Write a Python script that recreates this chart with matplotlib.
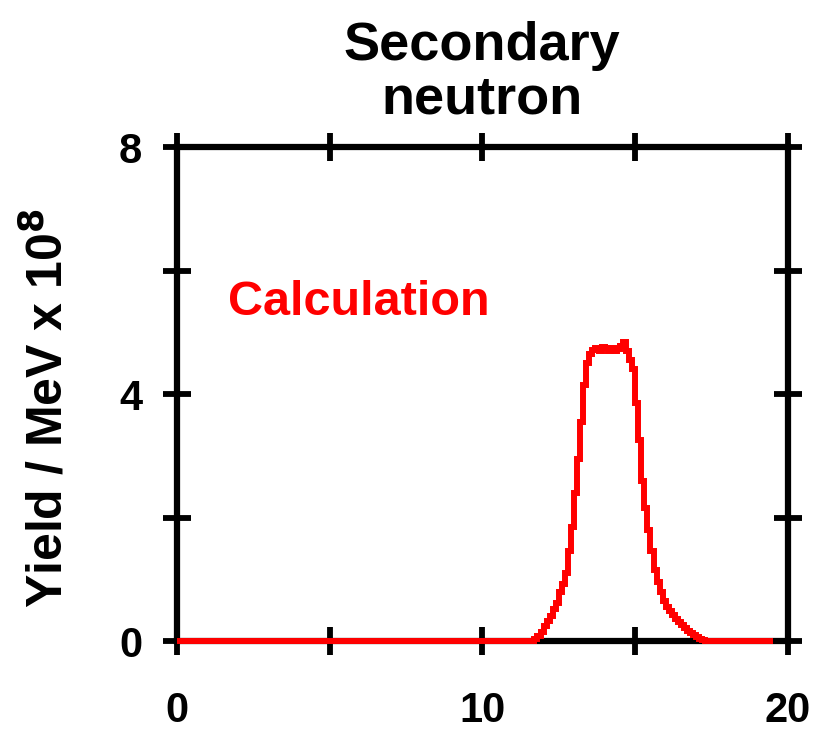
import matplotlib.pyplot as plt
import numpy as np

plt.rcParams['font.family'] = ['Liberation Sans', 'DejaVu Sans']
plt.rcParams['font.weight'] = 'bold'

# calculated secondary neutron spectrum, 0.1 MeV bins
bin_width = 0.1
e_min, e_max = 0.0, 19.5
peak_start = 11.7
peak_yield = [0.03, 0.08, 0.15, 0.25, 0.32, 0.40, 0.52, 0.62, 0.80, 0.92,
              1.10, 1.45, 1.85, 2.40, 2.95, 3.55, 4.15, 4.50, 4.65, 4.72,
              4.75, 4.70, 4.76, 4.74, 4.70, 4.74, 4.70, 4.73, 4.78, 4.84,
              4.70, 4.55, 4.40, 3.85, 3.25, 2.60, 2.15, 1.80, 1.45, 1.15,
              0.95, 0.80, 0.65, 0.55, 0.48, 0.42, 0.36, 0.30, 0.26, 0.21,
              0.17, 0.13, 0.10, 0.07, 0.04, 0.02]

x_ticks = [0, 10, 20]
y_ticks = [0, 4, 8]

n_bins = int(round((e_max - e_min) / bin_width))
edges = e_min + bin_width * np.arange(n_bins + 1)
values = np.zeros(n_bins)
i0 = int(round((peak_start - e_min) / bin_width))
values[i0:i0 + len(peak_yield)] = peak_yield

fig = plt.figure(figsize=(8.14, 7.32), dpi=100)
ax = fig.add_axes([0.2174, 0.1243, 0.7506, 0.6747])

ax.stairs(values, edges, color='#ff0000', lw=4.3, baseline=None,
          clip_on=False, zorder=5)

ax.set_xlim(0, 20)
ax.set_ylim(0, 8)
ax.set_xticks(x_ticks)
ax.set_xticks([5, 15], minor=True)
ax.set_yticks(y_ticks)
ax.set_yticks([2, 6], minor=True)
for s in ax.spines.values():
    s.set_linewidth(4.5)
ax.tick_params(which='both', direction='inout', length=20, width=4.2,
               top=True, right=True, labelsize=30)
ax.tick_params(axis='x', pad=26)
ax.tick_params(axis='y', pad=15)
for lab in ax.get_xticklabels() + ax.get_yticklabels():
    lab.set_fontweight('bold')

fig.text(62 / 814, 1 - 408 / 732, 'Yield / MeV x 10$^{\\mathbf{8}}$',
         fontsize=36, fontweight='bold', rotation=90, rotation_mode='anchor',
         ha='center', va='baseline')
fig.text(482 / 814, 1 - 60 / 732, 'Secondary', fontsize=39,
         fontweight='bold', ha='center', va='baseline')
fig.text(482 / 814, 1 - 113 / 732, 'neutron', fontsize=39,
         fontweight='bold', ha='center', va='baseline')
ax.text(1.67, 5.49, 'Calculation', color='#ff0000', fontsize=35,
        fontweight='bold', va='center')

fig.savefig('out.png', dpi=100)
